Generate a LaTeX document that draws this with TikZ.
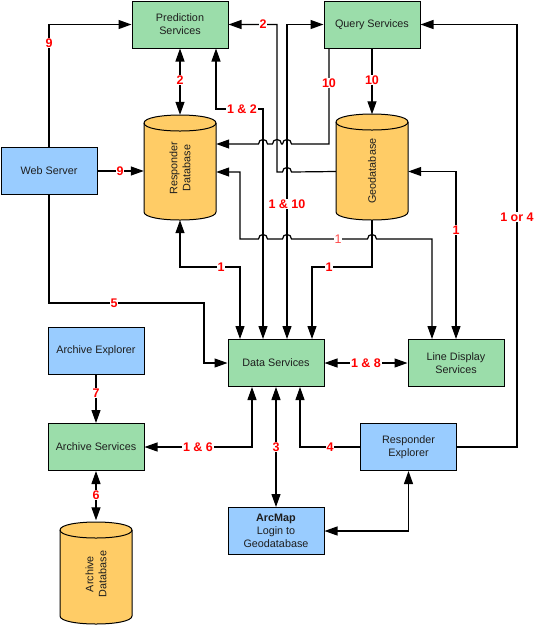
\documentclass[tikz,border=0pt]{standalone}
\usepackage{fontspec}
\setmainfont{Liberation Sans}
\usetikzlibrary{arrows.meta}
\definecolor{boxgreen}{RGB}{155,221,170}
\definecolor{boxblue}{RGB}{153,204,255}
\definecolor{dborange}{RGB}{255,204,102}
\definecolor{lblred}{RGB}{255,0,0}
\definecolor{txtgray}{RGB}{30,30,30}
\newcommand{\dbcyl}[4]{% cx, ytop(peak), ybot(peak), halfwidth
  \fill[dborange] (#1-#4,#2+8) .. controls (#1-#4,#2-2.67) and (#1+#4,#2-2.67) .. (#1+#4,#2+8)
     -- (#1+#4,#3-8) .. controls (#1+#4,#3+2.67) and (#1-#4,#3+2.67) .. (#1-#4,#3-8) -- cycle;
  \draw[line width=1pt] (#1-#4,#2+8) .. controls (#1-#4,#2-2.67) and (#1+#4,#2-2.67) .. (#1+#4,#2+8)
     -- (#1+#4,#3-8) .. controls (#1+#4,#3+2.67) and (#1-#4,#3+2.67) .. (#1-#4,#3-8) -- cycle;
  \draw[line width=1pt] (#1-#4,#2+8) .. controls (#1-#4,#2+18.67) and (#1+#4,#2+18.67) .. (#1+#4,#2+8);
}
\tikzset{
  box/.style={draw, line width=1pt, minimum width=96pt, minimum height=47pt, inner sep=2pt,
    align=center, text=txtgray, font=\fontsize{10.8}{13}\selectfont},
  gbox/.style={box, fill=boxgreen},
  bbox/.style={box, fill=boxblue},
  dbarea/.style={rectangle, minimum width=72pt, minimum height=105pt, inner sep=0pt},
  dbtext/.style={rotate=90, align=center, text=txtgray, font=\fontsize{10.8}{13}\selectfont},
  conn/.style={line width=1.2pt},
  arr/.style={conn, -{Triangle[length=13pt,width=9pt]}},
  both/.style={conn, {Triangle[length=13pt,width=9pt]}-{Triangle[length=13pt,width=9pt]}},
  lbl/.style={fill=white, text=lblred, inner sep=1pt, font=\bfseries\fontsize{12.5}{13}\selectfont},
  lbllight/.style={lbl, text=red!70, font=\fontsize{12.5}{13}\selectfont},
  hopl/.style 2 args={insert path={-- ({#1+4.5},#2) .. controls ({#1+4.5},{#2-6}) and ({#1-4.5},{#2-6}) .. ({#1-4.5},#2)}},
  hopr/.style 2 args={insert path={-- ({#1-4.5},#2) .. controls ({#1-4.5},{#2-6}) and ({#1+4.5},{#2-6}) .. ({#1+4.5},#2)}},
}
\begin{document}
\begin{tikzpicture}[x=1pt,y=-1pt]
\useasboundingbox (0,0) rectangle (535,625);

% boxes
\node[gbox] (pred) at (180,24.5) {Prediction\\Services};
\node[gbox] (query) at (372,24.5) {Query Services};
\node[bbox] (web) at (49,171) {Web Server};
\node[gbox] (data) at (276,363) {Data Services};
\node[gbox] (line) at (456,363) {Line Display\\Services};
\node[bbox] (aexp) at (96,351) {Archive Explorer};
\node[gbox] (asvc) at (96,447) {Archive Services};
\node[bbox] (arcmap) at (276,531) {\textbf{ArcMap}\\Login to\\Geodatabase};
\node[bbox] (rexp) at (408.5,447) {Responder\\Explorer};

% databases
\dbcyl{180}{115}{220}{36}
\node[dbarea] (rdb) at (180,167.5) {};
\node[dbtext] (rdbt) at (180,168) {Responder\\Database};
\dbcyl{372}{114}{220}{36}
\node[dbarea] (geo) at (372,167) {};
\node[dbtext] (geot) at (372,171) {Geodatabase};
\dbcyl{96}{522}{624}{36}
\node[dbarea] (adb) at (96,573) {};
\node[dbtext] (adbt) at (96,574) {Archive\\Database};

% connectors
\draw[arr] (web.north) |- (pred.west);
\node[lbl] at (49,43) {9};

\draw[arr] (web.east) -- (rdb.west |- web.east);
\node[lbl] at (120,171) {9};

\draw[both] (pred.south) -- (rdb.north);
\node[lbl] at (180,80) {2};

\draw[arr] ([yshift=-4.5pt]geo.west) [hopl={287}{172}] -- (277,172) |- (pred.east);
\node[lbl] at (263,24.5) {2};

\draw[both] ([xshift=11pt]data.north) |- (query.west);
\node[lbl] at (287,204) {1 \& 10};

\draw[both] ([xshift=36pt]pred.south) -- (216,109) -| ([xshift=-13pt]data.north);
\node[lbl] at (242,109) {1 \& 2};

\draw[arr] ([xshift=-43pt]query.south) -- (329,144) [hopl={287}{144}] [hopl={277}{144}] [hopl={263}{144}] -- ([yshift=23.5pt]rdb.east);
\node[lbl] at (329,83) {10};

\draw[arr] (query.south) -- (geo.north);
\node[lbl] at (372,80) {10};

\draw[arr] (rexp.east) -- (517,447) |- (query.east);
\node[lbl] at (517,217) {1 or 4};

\draw[both] (line.north) |- ([yshift=-4.5pt]geo.east);
\node[lbl] at (456,230) {1};

\draw[both] ([yshift=-4.5pt]rdb.east) -- (240,172) -- (240,239) [hopr={263}{239}] [hopr={287}{239}] [hopr={372}{239}] -| ([xshift=-24pt]line.north);
\node[lbllight] at (338,239) {1};

\draw[both] (rdb.south) -- (180,267) -| ([xshift=-36pt]data.north);
\node[lbl] at (221,267) {1};

\draw[arr] (geo.south) -- (372,267) -| ([xshift=36pt]data.north);
\node[lbl] at (329,267) {1};

\draw[arr] (web.south) -- (49,303) -| (204,363) -- (data.west);
\node[lbl] at (114,303) {5};

\draw[both] (data.east) -- (line.west);
\node[lbl] at (366,363) {1 \& 8};

\draw[arr] (aexp.south) -- (asvc.north);
\node[lbl] at (96,393) {7};

\draw[both] ([xshift=-24pt]data.south) |- (asvc.east);
\node[lbl] at (198,447) {1 \& 6};

\draw[both] (asvc.south) -- (adb.north);
\node[lbl] at (96,495) {6};

\draw[both] (data.south) -- (arcmap.north);
\node[lbl] at (276,447) {3};

\draw[arr] (rexp.west) -| ([xshift=24pt]data.south);
\node[lbl] at (330,447) {4};

\draw[both] (arcmap.east) -| (rexp.south);
\end{tikzpicture}
\end{document}
